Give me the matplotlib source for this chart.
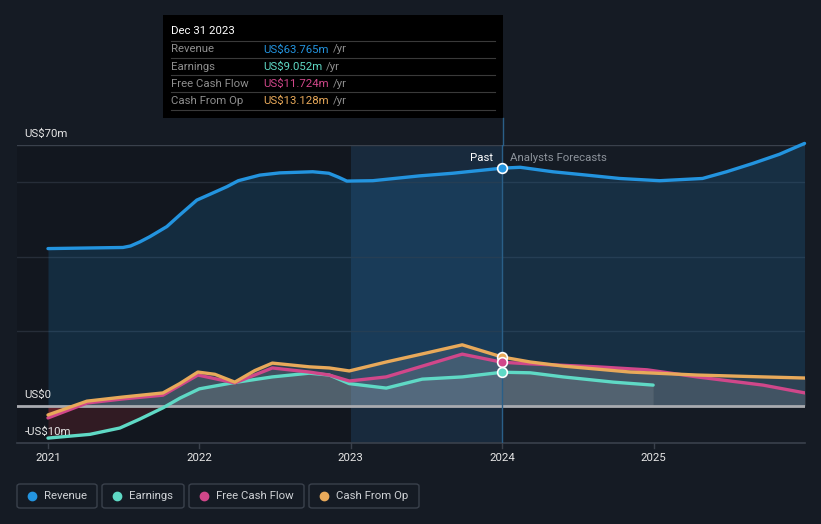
import matplotlib
matplotlib.use("Agg")
import matplotlib.pyplot as plt
from matplotlib.patches import Rectangle, FancyBboxPatch
import numpy as np

plt.rcParams['font.family'] = ['Roboto', 'DejaVu Sans']

# ---- data (US$ m, x in fractional years) ----
rev_x = [2021.00, 2021.495, 2021.545, 2021.607, 2021.673, 2021.785, 2021.870, 2021.983, 2022.083,
         2022.182, 2022.257, 2022.399, 2022.531, 2022.749, 2022.855, 2022.921, 2022.974, 2023.145,
         2023.455, 2023.673, 2024.0, 2024.119, 2024.334, 2024.558, 2024.776, 2025.040, 2025.323,
         2025.482, 2025.653, 2025.832, 2025.997]
rev_y = [42.2, 42.5, 42.9, 44.0, 45.4, 48.1, 51.2, 55.2, 57.0,
         58.8, 60.4, 61.9, 62.5, 62.8, 62.4, 61.3, 60.3, 60.4,
         61.7, 62.4, 63.765, 64.0, 62.8, 61.9, 61.0, 60.4, 61.0,
         62.8, 65.0, 67.5, 70.4]

earn_x = [2021.00, 2021.277, 2021.475, 2021.607, 2021.759, 2021.871, 2022.00, 2022.218, 2022.482,
          2022.726, 2022.858, 2022.990, 2023.234, 2023.472, 2023.736, 2024.0, 2024.185, 2024.403,
          2024.733, 2024.997]
earn_y = [-8.6, -7.6, -5.9, -3.5, -0.5, 2.1, 4.6, 6.2, 7.8,
          8.8, 8.3, 6.0, 4.8, 7.2, 7.8, 9.052, 8.9, 7.8,
          6.4, 5.6]

fcf_x = [2021.00, 2021.257, 2021.495, 2021.759, 2021.990, 2022.234, 2022.482, 2022.726, 2022.858,
         2022.990, 2023.234, 2023.498, 2023.736, 2024.0, 2024.185, 2024.627, 2024.957, 2025.287,
         2025.723, 2026.0]
fcf_y = [-3.2, 0.8, 1.9, 2.9, 8.3, 6.2, 10.2, 9.1, 8.3,
         6.7, 7.8, 11.0, 13.9, 11.724, 11.3, 10.5, 9.7, 7.8,
         5.6, 3.5]

cfo_x = [2021.00, 2021.257, 2021.495, 2021.759, 2021.870, 2021.990, 2022.102, 2022.234, 2022.366,
         2022.482, 2022.726, 2022.858, 2022.990, 2023.234, 2023.498, 2023.736, 2024.0, 2024.185,
         2024.403, 2024.845, 2025.287, 2025.723, 2026.0]
cfo_y = [-2.4, 1.3, 2.4, 3.5, 6.0, 9.1, 8.5, 6.4, 9.5,
         11.5, 10.5, 10.2, 9.4, 11.8, 14.2, 16.4, 13.128, 11.8,
         10.7, 9.1, 8.3, 7.8, 7.5]

y_ticks = [-10, 0, 70]
y_tick_labels = ["-US$10m", "US$0", "US$70m"]
x_ticks = [2021, 2022, 2023, 2024, 2025]
x_tick_labels = ["2021", "2022", "2023", "2024", "2025"]

tooltip_date = "Dec 31 2023"
tooltip_rows = [("Revenue", "US$63.765m"), ("Earnings", "US$9.052m"),
                ("Free Cash Flow", "US$11.724m"), ("Cash From Op", "US$13.128m")]

C_REV = '#2394df'
C_EARN = '#5fd9c5'
C_FCF = '#d0478a'
C_CFO = '#e8a95a'
BG = '#151b24'
FS = 8.2

W, H = 821, 524
fig = plt.figure(figsize=(W / 100, H / 100), dpi=100, facecolor=BG)

def fx(px):
    return px / W

def fy(py):
    return 1 - py / H

ax_l, ax_r, ax_t, ax_b = 17, 805, 144.9, 443.3
ax = fig.add_axes([fx(ax_l), fy(ax_b), (ax_r - ax_l) / W, (ax_b - ax_t) / H])
ax.set_facecolor(BG)
x0 = 2021 + (ax_l - 48) / 151.5
ax.set_xlim(x0, 2026.0)
ax.set_ylim(-10, 70)
for s in ax.spines.values():
    s.set_visible(False)
ax.set_xticks([])
ax.set_yticks([])

# darker past region
ax.axvspan(x0, 2023.0, color='#0f131a', alpha=0.45, lw=0, zorder=0)
# past highlight
ax.axvspan(2023.0, 2024.0, color='#1f4f78', alpha=0.30, lw=0, zorder=0)

# gridlines
for g in [20, 40, 60]:
    ax.axhline(g, color='#262d38', lw=1, zorder=1)
ax.axhline(70, color='#3a414c', lw=1, zorder=1)
ax.axhline(-10, color='#3a414c', lw=1.2, zorder=1, clip_on=False)

# revenue fill
ax.fill_between(rev_x, 0, rev_y, color=C_REV, alpha=0.17, lw=0, zorder=2)

# other fills
for xs, ys in [(earn_x, earn_y), (fcf_x, fcf_y), (cfo_x, cfo_y)]:
    xa = np.array(xs); ya = np.array(ys)
    ax.fill_between(xa, 0, ya, where=ya >= 0, interpolate=True, color='#c8c8c8', alpha=0.13, lw=0, zorder=3)
    ax.fill_between(xa, 0, ya, where=ya <= 0, interpolate=True, color='#c0303a', alpha=0.18, lw=0, zorder=3)

ax.axhline(0, color='#a9abb0', lw=2, zorder=4)

lw = 2.4
ax.plot(rev_x, rev_y, color=C_REV, lw=lw, zorder=6, solid_capstyle='round', solid_joinstyle='round', clip_on=False)
ax.plot(earn_x, earn_y, color=C_EARN, lw=lw, zorder=5, solid_capstyle='round', solid_joinstyle='round')
ax.plot(fcf_x, fcf_y, color=C_FCF, lw=lw, zorder=5, solid_capstyle='round', solid_joinstyle='round')
ax.plot(cfo_x, cfo_y, color=C_CFO, lw=lw, zorder=5, solid_capstyle='round', solid_joinstyle='round')

# markers at tooltip date
for v, c in [(rev_y[rev_x.index(2024.0)], C_REV), (cfo_y[cfo_x.index(2024.0)], C_CFO),
             (fcf_y[fcf_x.index(2024.0)], C_FCF), (earn_y[earn_x.index(2024.0)], C_EARN)]:
    ax.plot([2024.0], [v], 'o', ms=7, mfc=c, mec='white', mew=1.2, zorder=8, clip_on=False)

# vertical line at 2024 up to tooltip
ax.plot([2024.0, 2024.0], [-10, 70], color='#2a5f88', lw=1, zorder=5)
fig.add_artist(plt.Line2D([fx(502.5), fx(502.5)], [fy(118), fy(ax_t)], color='#2a5f88', lw=1))

# tick marks and labels
for xt, lab in zip(x_ticks, x_tick_labels):
    ax.plot([xt, xt], [-10, -11.2], color='#3a414c', lw=1, clip_on=False)
    ax.text(xt, -12.6, lab, color='#e6e6e6', fontsize=FS, ha='center', va='top')

for yt, lab in zip(y_ticks, y_tick_labels):
    ax.text(x0 + 0.05, yt + 1.6 if yt != -10 else yt + 1.8, lab, color='#e6e6e6', fontsize=FS,
            ha='left', va='bottom', zorder=9)

ax.text(2024.0 - 0.06, 66.5, "Past", color='#ffffff', fontsize=FS, ha='right', va='center', zorder=9)
ax.text(2024.0 + 0.05, 66.5, "Analysts Forecasts", color='#8d939b', fontsize=FS, ha='left', va='center', zorder=9)

# tooltip
fig.add_artist(Rectangle((fx(163), fy(118)), (503 - 163) / W, (118 - 15) / H, transform=fig.transFigure,
                         facecolor='#000000', edgecolor='none'))
fig.text(fx(171), fy(31), tooltip_date, color='#ffffff', fontsize=FS, va='center', ha='left')
sep_y = [41, 58, 75, 92, 110]
for sy in sep_y:
    fig.add_artist(plt.Line2D([fx(171), fx(495)], [fy(sy), fy(sy)], color='#3a3a3a', lw=0.8))
row_y = [49.5, 66.5, 84, 101]
cols = [C_REV, C_EARN, C_FCF, C_CFO]
fig.canvas.draw()
r = fig.canvas.get_renderer()
for (name, val), ry, c in zip(tooltip_rows, row_y, cols):
    fig.text(fx(171), fy(ry), name, color='#8e8e8e', fontsize=FS, va='center', ha='left')
    t = fig.text(fx(263), fy(ry), val, color=c, fontsize=FS, va='center', ha='left')
    bb = t.get_window_extent(renderer=r)
    fig.text((bb.x1 + 4) / W, fy(ry), "/yr", color='#8e8e8e', fontsize=FS, va='center', ha='left')

# legend
legend_items = ["Revenue", "Earnings", "Free Cash Flow", "Cash From Op"]
boxes = [(17, 97), (102, 184), (189, 304), (309, 419)]
for lab, (bx0, bx1), c in zip(legend_items, boxes, cols):
    fig.add_artist(FancyBboxPatch((fx(bx0), fy(508)), (bx1 - bx0) / W, 24 / H,
                                  boxstyle="round,pad=0,rounding_size=0.004", transform=fig.transFigure,
                                  facecolor='none', edgecolor='#3a414c', lw=1))
    fig.add_artist(plt.Line2D([fx(bx0 + 15)], [fy(496)], marker='o', ms=6, color=c, mec=c, lw=0))
    fig.text(fx(bx0 + 27), fy(496), lab, color='#cfd2d6', fontsize=FS, va='center', ha='left')

fig.savefig("out.png", dpi=100, facecolor=BG)
